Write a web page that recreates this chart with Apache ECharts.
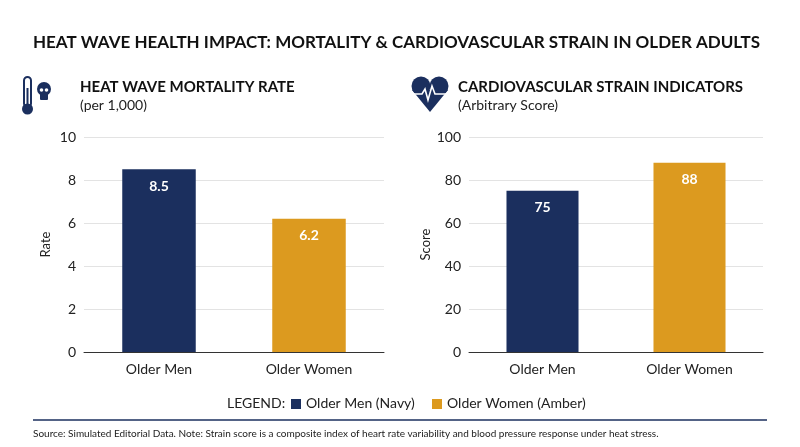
<!DOCTYPE html>
<html><head><meta charset="utf-8">
<script src="https://cdn.jsdelivr.net/npm/echarts@6/dist/echarts.min.js"></script>
<style>html,body{margin:0;background:#fff}#c{width:800px;height:447px}</style>
</head><body><div id="c"></div>
<script>
const categories = ['Older Men', 'Older Women'];
const mortality = [8.5, 6.2];
const strain = [75, 88];
const NAVY = '#1b2f5e', AMBER = '#dc9a1f';
const FONT = 'Lato, "Open Sans", sans-serif';

const chart = echarts.init(document.getElementById('c'));

function barData(vals) {
    return vals.map((v, i) => ({ value: v, itemStyle: { color: i ? AMBER : NAVY } }));
}
function xAxis(idx) {
    return {
        type: 'category', gridIndex: idx, data: categories,
        axisTick: { show: false },
        axisLine: { lineStyle: { color: '#333' } },
        axisLabel: { color: '#222', fontSize: 14, fontFamily: FONT, margin: 10 },
    };
}
function yAxis(idx, max, interval, name) {
    return {
        type: 'value', gridIndex: idx, min: 0, max, interval,
        name, nameLocation: 'middle', nameGap: 32,
        nameTextStyle: { color: '#222', fontSize: 13, fontFamily: FONT },
        axisLabel: { color: '#222', fontSize: 14, fontFamily: FONT },
        splitLine: { lineStyle: { color: '#e3e3e3' } },
    };
}
function series(idx, vals) {
    return {
        type: 'bar', xAxisIndex: idx, yAxisIndex: idx, barWidth: '49%',
        data: barData(vals), animation: false,
        label: { show: true, position: 'insideTop', distance: 10, color: '#fff',
            fontSize: 14, fontWeight: 'bold', fontFamily: FONT },
    };
}

chart.setOption({
    animation: false,
    textStyle: { fontFamily: FONT },
    title: [
        { text: 'HEAT WAVE HEALTH IMPACT: MORTALITY & CARDIOVASCULAR STRAIN IN OLDER ADULTS',
          left: 28, top: 29, textStyle: { fontSize: 17, fontWeight: 'bold', color: '#111', fontFamily: FONT } },
        { text: 'HEAT WAVE MORTALITY RATE', subtext: '(per 1,000)', left: 75, top: 75, itemGap: 3,
          textStyle: { fontSize: 15, fontWeight: 'bold', color: '#111', fontFamily: FONT },
          subtextStyle: { fontSize: 14, color: '#222', fontFamily: FONT } },
        { text: 'CARDIOVASCULAR STRAIN INDICATORS', subtext: '(Arbitrary Score)', left: 453, top: 75, itemGap: 3,
          textStyle: { fontSize: 15, fontWeight: 'bold', color: '#111', fontFamily: FONT },
          subtextStyle: { fontSize: 14, color: '#222', fontFamily: FONT } },
    ],
    grid: [
        { left: 84, top: 137, width: 300, height: 215 },
        { left: 469, top: 137, width: 294, height: 215 },
    ],
    xAxis: [xAxis(0), xAxis(1)],
    yAxis: [yAxis(0, 10, 2, 'Rate'), yAxis(1, 100, 20, 'Score')],
    series: [series(0, mortality), series(1, strain)],
    graphic: [
        // thermometer
        { type: 'rect', shape: { x: 24, y: 77, width: 7, height: 30, r: 3.5 },
          style: { fill: '#fff', stroke: NAVY, lineWidth: 2 } },
        { type: 'circle', shape: { cx: 27.5, cy: 109, r: 5.5 }, style: { fill: NAVY } },
        { type: 'rect', shape: { x: 26.5, y: 88, width: 2, height: 18 }, style: { fill: NAVY } },
        // skull
        { type: 'circle', shape: { cx: 44, cy: 89, r: 7 }, style: { fill: NAVY } },
        { type: 'rect', shape: { x: 40, y: 92, width: 8, height: 8, r: 1 }, style: { fill: NAVY } },
        { type: 'circle', shape: { cx: 41.5, cy: 90, r: 1.8 }, style: { fill: '#fff' } },
        { type: 'circle', shape: { cx: 46.5, cy: 90, r: 1.8 }, style: { fill: '#fff' } },
        // heart
        { type: 'circle', shape: { cx: 421, cy: 86, r: 9.5 }, style: { fill: NAVY } },
        { type: 'circle', shape: { cx: 439, cy: 86, r: 9.5 }, style: { fill: NAVY } },
        { type: 'polygon', shape: { points: [[412, 90], [448, 90], [430, 112]] }, style: { fill: NAVY } },
        { type: 'polyline', shape: { points: [[412, 94], [422, 94], [425, 89], [428, 100], [432, 86], [435, 94], [448, 94]] },
          style: { stroke: '#fff', fill: null, lineWidth: 1.6 } },
        // legend
        { type: 'text', left: 227, top: 396, style: { text: 'LEGEND:', fontSize: 14, fill: '#222', fontFamily: FONT } },
        { type: 'rect', shape: { x: 291, y: 399, width: 10, height: 10 }, style: { fill: NAVY } },
        { type: 'text', left: 306, top: 396, style: { text: 'Older Men (Navy)', fontSize: 14, fill: '#222', fontFamily: FONT } },
        { type: 'rect', shape: { x: 432, y: 399, width: 10, height: 10 }, style: { fill: AMBER } },
        { type: 'text', left: 447, top: 396, style: { text: 'Older Women (Amber)', fontSize: 14, fill: '#222', fontFamily: FONT } },
        { type: 'line', shape: { x1: 33, y1: 420, x2: 767, y2: 420 }, style: { stroke: NAVY, lineWidth: 1.5 } },
        { type: 'text', left: 33, top: 429, style: { text: 'Source: Simulated Editorial Data. Note: Strain score is a composite index of heart rate variability and blood pressure response under heat stress.', fontSize: 10, fill: '#222', fontFamily: FONT } },
    ],
});
</script></body></html>
